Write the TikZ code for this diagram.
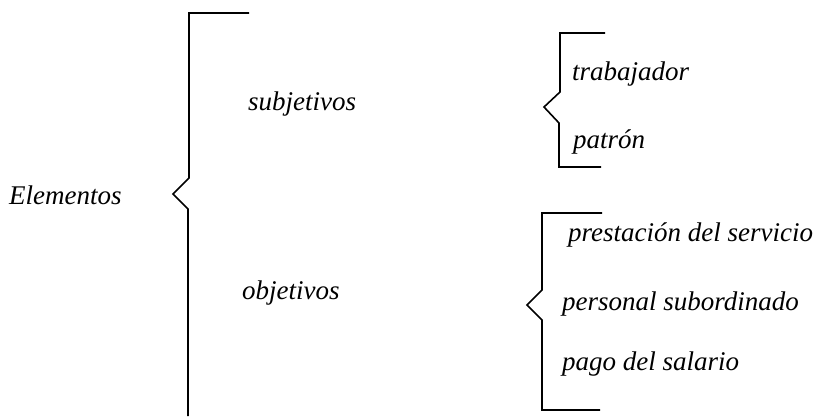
\documentclass[tikz,border=0pt]{standalone}
\usepackage{fontspec}
\setmainfont{Liberation Serif}
\usetikzlibrary{positioning}
\tikzset{
    x=1pt, y=-1pt, % pixel-like units, y grows downwards
    brace/.style={line width=1.6pt, line join=miter}, % the hand-drawn braces
    item/.style={anchor=west, inner sep=0pt, font=\fontsize{27}{31}\selectfont\itshape}, % every label
}
\begin{document}
\begin{tikzpicture}
    \useasboundingbox (0,0) rectangle (815,418);
    % labels
    \node[item] (elem) at (9,195) {Elementos};
    \node[item] (subj) at (248,104) {subjetivos};
    \node[item] (obj) at (242,293) {objetivos};
    \node[item] (trab) at (572,74) {trabajador};
    \node[item] (patr) at (573,142) {patrón};
    \node[item] (prest) at (568,235) {prestación del servicio};
    \node[item] (pers) at (562,304) {personal subordinado};
    \node[item] (pago) at (562,364) {pago del salario};
    % big brace
    \coordinate (b1) at (249,13);
    \coordinate (b2) at (189,13);
    \coordinate (b3) at (189,178);
    \coordinate (b4) at (173,194);
    \coordinate (b5) at (188,209);
    \coordinate (b6) at (188,416);
    \draw[brace] (b1) -- (b2) -- (b3) -- (b4) -- (b5) -- (b6);
    % brace for subjetivos
    \coordinate (s1) at (605,33);
    \coordinate (s2) at (560,33);
    \coordinate (s3) at (560,92);
    \coordinate (s4) at (544,107);
    \coordinate (s5) at (559,123);
    \coordinate (s6) at (559,167);
    \coordinate (s7) at (601,167);
    \draw[brace] (s1) -- (s2) -- (s3) -- (s4) -- (s5) -- (s6) -- (s7);
    % brace for objetivos
    \coordinate (o1) at (602,213);
    \coordinate (o2) at (542,213);
    \coordinate (o3) at (542,290);
    \coordinate (o4) at (527,305);
    \coordinate (o5) at (542,320);
    \coordinate (o6) at (542,410);
    \coordinate (o7) at (600,410);
    \draw[brace] (o1) -- (o2) -- (o3) -- (o4) -- (o5) -- (o6) -- (o7);
\end{tikzpicture}
\end{document}
